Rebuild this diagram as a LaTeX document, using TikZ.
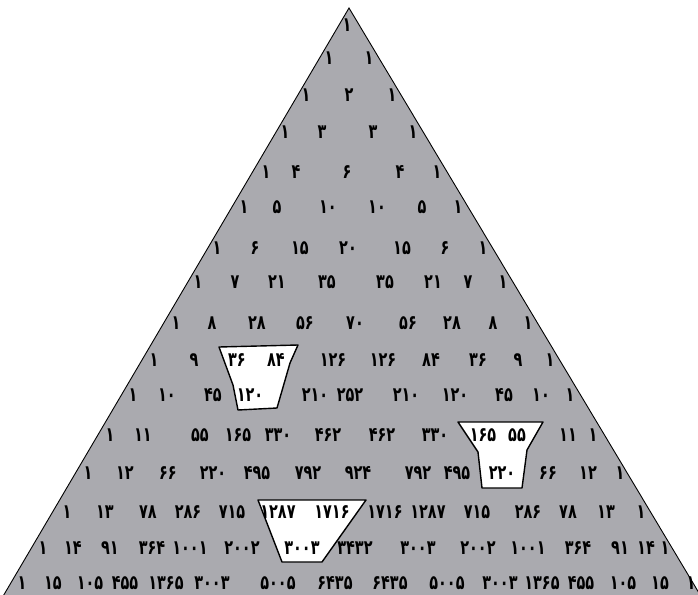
\documentclass[tikz,border=0pt]{standalone}
\usepackage{fontspec}
\usepackage{xcolor}
\newfontfamily\farsi[FakeStretch=0.72]{DejaVu Sans}
\definecolor{trigray}{RGB}{170,170,175}

\begin{document}
\begin{tikzpicture}[x=1pt, y=-1pt,
    num/.style={font=\farsi\bfseries\fontsize{20}{20}\selectfont, inner sep=0pt},
    tri/.style={fill=trigray, draw=black, line width=0.9pt},
    hole/.style={fill=white, draw=black, line width=1.4pt, line join=round}
  ]
  \useasboundingbox (0,0) rectangle (698,594);
  \clip (0,0) rectangle (698,594);
  \coordinate (apex) at (349,8);
  \coordinate (baseleft) at (2,598);
  \coordinate (baseright) at (702,598);
  \filldraw[tri] (apex) -- (baseleft) -- (baseright) -- cycle;
  % white boxes round the sums
  \draw[hole] (219,347) -- (298,345) -- (290,363) -- (277,408) -- (238,410) -- (233,385) -- cycle;
  \draw[hole] (458,422) -- (543,422) -- (527,450) -- (522,488) -- (482,488) -- (478,452) -- cycle;
  \draw[hole] (258,500) -- (366,500) -- (322,562) -- (282,562) -- cycle;
  % rows of the triangle
  \foreach \yy/\row [count=\r from 0] in {
      25/{347/۱},
      58/{329/۱,369/۱},
      95/{306/۱,349/۲,392/۱},
      132/{285/۱,322/۳,373/۳,413/۱},
      172/{266/۱,296/۴,347/۶,400/۴,437/۱},
      207/{244/۱,277/۵,328/۱۰,377/۱۰,422/۵,458/۱},
      248/{217/۱,255/۶,300/۱۵,348/۲۰,402/۱۵,445/۶,483/۱},
      282/{198/۱,235/۷,277/۲۱,327/۳۵,385/۳۵,433/۲۱,468/۷,503/۱},
      323/{176/۱,212/۸,257/۲۸,305/۵۶,355/۷۰,408/۵۶,452/۲۸,493/۸,528/۱},
      360/{154/۱,194/۹,237/۳۶,276/۸۴,333/۱۲۶,383/۱۲۶,431/۸۴,478/۳۶,518/۹,550/۱},
      395/{133/۱,167/۱۰,213/۴۵,250/۱۲۰,315/۲۱۰,350/۲۵۲,406/۲۱۰,455/۱۲۰,504/۴۵,541/۱۰,570/۱},
      435/{110/۱,143/۱۱,200/۵۵,238/۱۶۵,278/۳۳۰,328/۴۶۲,382/۴۶۲,435/۳۳۰,483/۱۶۵,517/۵۵,568/۱۱,593/۱},
      473/{88/۱,125/۱۲,168/۶۶,213/۲۲۰,257/۴۹۵,308/۷۹۲,358/۹۲۴,418/۷۹۲,457/۴۹۵,502/۲۲۰,548/۶۶,588/۱۲,620/۱},
      512/{67/۱,105/۱۳,148/۷۸,188/۲۸۶,232/۷۱۵,278/۱۲۸۷,332/۱۷۱۶,385/۱۷۱۶,428/۱۲۸۷,477/۷۱۵,528/۲۸۶,568/۷۸,606/۱۳,641/۱},
      548/{43/۱,73/۱۴,110/۹۱,152/۳۶۴,190/۱۰۰۱,242/۲۰۰۲,302/۳۰۰۳,355/۳۴۳۲,418/۳۰۰۳,478/۲۰۰۲,528/۱۰۰۱,578/۳۶۴,620/۹۱,646/۱۴,665/۱},
      583/{22/۱,53/۱۵,90/۱۰۵,125/۴۵۵,166/۱۳۶۵,212/۳۰۰۳,278/۵۰۰۵,335/۶۴۳۵,390/۶۴۳۵,447/۵۰۰۵,500/۳۰۰۳,542/۱۳۶۵,581/۴۵۵,623/۱۰۵,660/۱۵,691/۱}}
    \foreach \xx/\v [count=\k from 0] in \row
      \node[num] (n\r-\k) at (\xx,\yy) {\v};
\end{tikzpicture}
\end{document}
